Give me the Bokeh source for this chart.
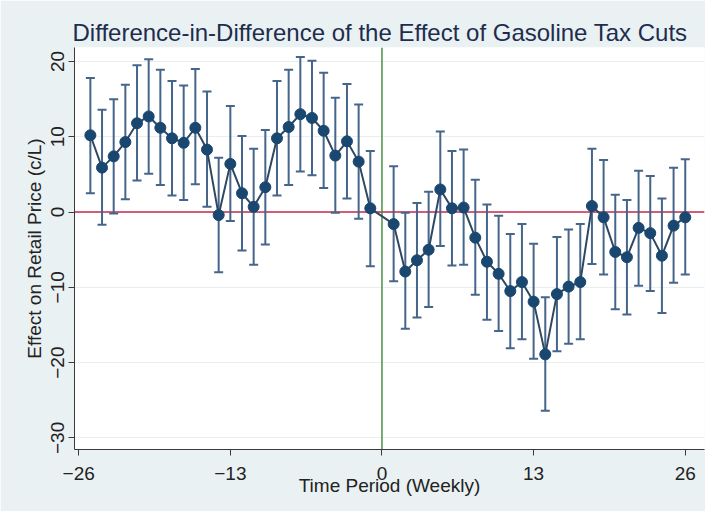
from bokeh.plotting import figure
from bokeh.models import Range1d, Span, FixedTicker
from bokeh.embed import file_html
from bokeh.resources import INLINE

# ---- data ----
weeks = [-25, -24, -23, -22, -21, -20, -19, -18, -17, -16, -15, -14, -13,
         -12, -11, -10, -9, -8, -7, -6, -5, -4, -3, -2, -1,
         1, 2, 3, 4, 5, 6, 7, 8, 9, 10, 11, 12, 13,
         14, 15, 16, 17, 18, 19, 20, 21, 22, 23, 24, 25, 26]
estimate = [10.2, 5.9, 7.4, 9.3, 11.8, 12.7, 11.2, 9.8, 9.2, 11.2, 8.3, -0.4, 6.4,
            2.5, 0.7, 3.3, 9.8, 11.3, 13.0, 12.5, 10.8, 7.5, 9.4, 6.7, 0.5,
            -1.6, -7.9, -6.4, -5.0, 3.0, 0.5, 0.6, -3.4, -6.6, -8.2, -10.5, -9.3, -11.9,
            -18.9, -10.9, -9.9, -9.3, 0.8, -0.7, -5.3, -6.0, -2.1, -2.8, -5.8, -1.8, -0.7]
ci_low = [2.5, -1.7, -0.2, 1.7, 4.2, 5.1, 3.6, 2.2, 1.6, 3.7, 0.7, -8.0, -1.2,
          -5.1, -7.0, -4.3, 2.2, 3.6, 5.4, 4.9, 3.2, -0.1, 1.8, -0.9, -7.2,
          -9.2, -15.5, -14.0, -12.6, -4.5, -7.1, -7.0, -11.0, -14.3, -15.8, -18.1, -16.9, -19.5,
          -26.4, -18.5, -17.5, -16.9, -6.9, -8.3, -12.9, -13.6, -9.8, -10.5, -13.4, -9.4, -8.3]
ci_high = [17.8, 13.6, 15.0, 16.9, 19.5, 20.3, 18.9, 17.4, 16.8, 19.0, 16.0, 7.2, 14.1,
           10.1, 8.4, 10.9, 17.4, 18.9, 20.6, 20.1, 18.5, 15.2, 17.0, 14.3, 8.1,
           6.1, -0.1, 1.2, 2.7, 10.7, 8.1, 8.3, 4.3, 1.0, -0.5, -2.9, -1.6, -4.2,
           -11.3, -3.3, -2.3, -1.6, 8.4, 6.9, 2.3, 1.6, 5.5, 4.8, 1.8, 5.9, 7.0]
x_ticks = [-26, -13, 0, 13, 26]
y_ticks = [-30, -20, -10, 0, 10, 20]

FONT = "Liberation Sans"

p = figure(width=705, height=511, output_backend="svg", toolbar_location=None,
           x_range=Range1d(-26.36, 27.65), y_range=Range1d(-31.54, 21.86),
           min_border_left=74, min_border_right=1, min_border_top=47,
           min_border_bottom=62)

p.title.text = "Difference-in-Difference of the Effect of Gasoline Tax Cuts"
p.title.text_font = FONT
p.title.text_font_size = "24px"
p.title.text_font_style = "normal"
p.title.text_color = "#1E2D4D"
p.title.align = "left"
p.title.offset = -2
p.title.standoff = 4

p.border_fill_color = "#EAF1F3"
p.background_fill_color = "white"
p.outline_line_color = None

p.xgrid.visible = False
p.ygrid.ticker = FixedTicker(ticks=y_ticks)
p.ygrid.grid_line_color = "#E7EFF1"
p.ygrid.grid_line_width = 1

p.xaxis.ticker = FixedTicker(ticks=x_ticks)
p.yaxis.ticker = FixedTicker(ticks=y_ticks)
for ax in (p.xaxis, p.yaxis):
    ax.axis_line_color = "#3A3A3A"
    ax.axis_line_width = 1
    ax.major_tick_line_color = "#3A3A3A"
    ax.major_tick_out = 6
    ax.major_tick_in = 0
    ax.minor_tick_line_color = None
    ax.major_label_text_font = FONT
    ax.major_label_text_font_size = "19px"
    ax.major_label_text_color = "#222222"
    ax.axis_label_text_font = FONT
    ax.axis_label_text_font_size = "19px"
    ax.axis_label_text_font_style = "normal"
    ax.axis_label_text_color = "#222222"

p.xaxis.axis_label = "Time Period (Weekly)"
p.yaxis.axis_label = "Effect on Retail Price (c/L)"
p.yaxis.major_label_orientation = "vertical"
p.xaxis.major_label_standoff = 11
p.xaxis.axis_label_standoff = -8
p.yaxis.major_label_standoff = 4
p.yaxis.axis_label_standoff = 4

p.add_layout(Span(location=0, dimension="width", line_color="#C52A50",
                  line_width=1.6, level="underlay"))
p.add_layout(Span(location=0, dimension="height", line_color="#3A8A3A",
                  line_width=1.4, level="underlay"))

bar_col = "#46658A"
p.segment(x0=weeks, y0=ci_low, x1=weeks, y1=ci_high, line_color=bar_col, line_width=2)
p.scatter(weeks, ci_high, marker="dash", size=9, line_color=bar_col, line_width=2)
p.scatter(weeks, ci_low, marker="dash", size=9, line_color=bar_col, line_width=2)

p.line(weeks, estimate, line_color="#2F4862", line_width=2)
p.scatter(weeks, estimate, size=11, fill_color="#1A476F", line_color="#1A476F")

open("out.html", "w").write(file_html(p, INLINE))
